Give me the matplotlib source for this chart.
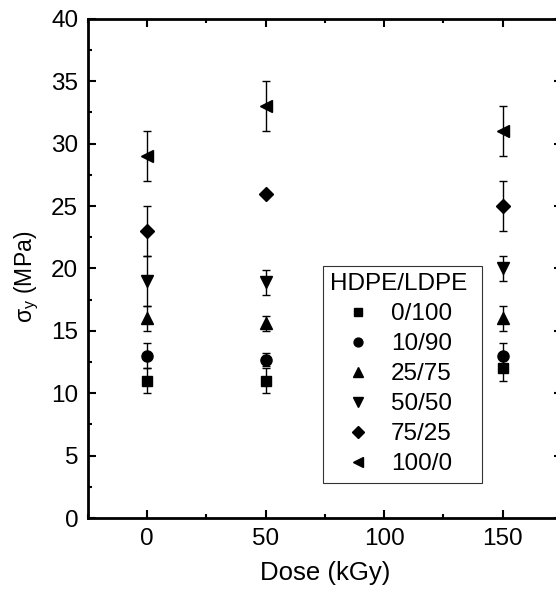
import matplotlib
matplotlib.use('Agg')
import matplotlib.pyplot as plt
from matplotlib.ticker import MultipleLocator

plt.rcParams['font.family'] = ['Liberation Sans', 'DejaVu Sans']
plt.rcParams['mathtext.fontset'] = 'custom'
plt.rcParams['mathtext.rm'] = 'Liberation Sans'
plt.rcParams['mathtext.it'] = 'Liberation Sans'

# data
dose = [0, 50, 150]
blends = ['0/100', '10/90', '25/75', '50/50', '75/25', '100/0']
markers = ['s', 'o', '^', 'v', 'D', '<']
sizes = [7, 8, 8.5, 8.5, 7.5, 9]
sy_0_100 = [11, 11, 12]
sy_10_90 = [13, 12.7, 13]
sy_25_75 = [16, 15.6, 16]
sy_50_50 = [19, 18.9, 20]
sy_75_25 = [23, 26, 25]
sy_100_0 = [29, 33, 31]
err_0_100 = [1, 1, 1]
err_10_90 = [1, 0.5, 1]
err_25_75 = [1, 0.6, 1]
err_50_50 = [2, 1, 1]
err_75_25 = [2, 0, 2]
err_100_0 = [2, 2, 2]

values = [sy_0_100, sy_10_90, sy_25_75, sy_50_50, sy_75_25, sy_100_0]
errors = [err_0_100, err_10_90, err_25_75, err_50_50, err_75_25, err_100_0]

fs = 17.5

fig = plt.figure(figsize=(5.56, 5.90), dpi=100)
ax = fig.add_axes([0.158, 0.122, 0.8525, 0.846])

for lab, m, ms, v, e in zip(blends, markers, sizes, values, errors):
    ax.errorbar(dose, v, yerr=e, fmt='none', ecolor='black', elinewidth=1,
                capsize=3, capthick=1)
    ax.plot(dose, v, linestyle='none', marker=m, markersize=ms, color='black',
            label=lab)

ax.set_xlim(-25, 175)
ax.set_ylim(0, 40)
ax.xaxis.set_major_locator(MultipleLocator(50))
ax.xaxis.set_minor_locator(MultipleLocator(25))
ax.yaxis.set_major_locator(MultipleLocator(5))
ax.yaxis.set_minor_locator(MultipleLocator(2.5))
ax.tick_params(which='both', direction='in', top=True, right=True,
               labelsize=fs, width=1.5)
ax.tick_params(which='major', length=6, pad=7)
ax.tick_params(which='minor', length=3)
for s in ax.spines.values():
    s.set_linewidth(2)

ax.set_xlabel('Dose (kGy)', fontsize=18.5, labelpad=8)
ax.set_ylabel(r'σ$_\mathrm{y}$ (MPa)', fontsize=16.5)
ax.yaxis.set_label_coords(-0.098, 0.483)

leg = ax.legend(title='HDPE/LDPE ', loc='upper left',
                bbox_to_anchor=(0.496, 0.505), fontsize=fs, title_fontsize=fs,
                frameon=True, fancybox=False, edgecolor='black',
                handlelength=2.3, handletextpad=0.2, labelspacing=0.33,
                borderpad=0.3, borderaxespad=0, markerscale=0.8)
leg.get_frame().set_linewidth(0.8)
leg._legend_box.align = 'left'

fig.savefig('out.png', dpi=100)
